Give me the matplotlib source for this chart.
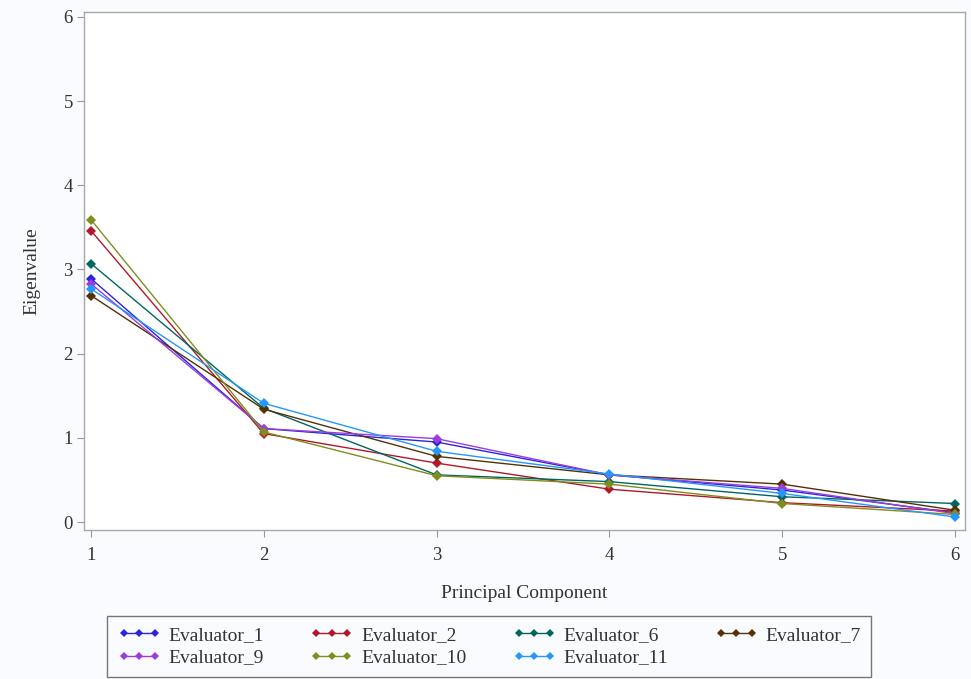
#! /usr/bin/env python3

#Scree plot of eigenvalues per evaluator
import matplotlib
matplotlib.use("Agg")
import matplotlib.pyplot as plt

components = [1, 2, 3, 4, 5, 6]
evaluator_1 = [2.89, 1.11, 0.95, 0.56, 0.38, 0.11]
evaluator_2 = [3.46, 1.05, 0.70, 0.39, 0.23, 0.13]
evaluator_6 = [3.07, 1.35, 0.56, 0.48, 0.30, 0.22]
evaluator_7 = [2.69, 1.34, 0.78, 0.56, 0.45, 0.14]
evaluator_9 = [2.83, 1.11, 0.99, 0.56, 0.40, 0.10]
evaluator_10 = [3.59, 1.07, 0.55, 0.45, 0.22, 0.09]
evaluator_11 = [2.77, 1.41, 0.84, 0.57, 0.34, 0.06]

names = ["Evaluator_1", "Evaluator_2", "Evaluator_6", "Evaluator_7",
         "Evaluator_9", "Evaluator_10", "Evaluator_11"]
series = [evaluator_1, evaluator_2, evaluator_6, evaluator_7,
          evaluator_9, evaluator_10, evaluator_11]
colors = ["#2A25D9", "#B2182B", "#01665E", "#543005",
          "#9D3CDB", "#7F8E1F", "#2597FA"]

plt.rcParams['font.family'] = ['Liberation Serif', 'DejaVu Serif']

fig = plt.figure(figsize=(9.71, 6.79), dpi=100, facecolor="#FAFBFE")
ax = fig.add_axes([0.0865, 0.2194, 0.9073, 0.7629])
ax.set_facecolor("white")

for name, vals, c in zip(names, series, colors):
    ax.plot(components, vals, color=c, lw=1.0, marker="D", markersize=5,
            markeredgewidth=0, label=name)

ax.set_xlim(0.9595, 6.058)
ax.set_ylim(-0.095, 6.057)
ax.set_xticks(components)
ax.set_yticks([0, 1, 2, 3, 4, 5, 6])
ax.tick_params(direction="out", length=5, color="#9A9A9A", labelsize=13.5,
               labelcolor="#333333")
ax.tick_params(axis="x", pad=7)
ax.tick_params(axis="y", pad=3)
for sp in ax.spines.values():
    sp.set_color("#A8A8A8")
    sp.set_linewidth(1.0)

ax.set_xlabel("Principal Component", fontsize=14, color="#333333", labelpad=15)
ax.set_ylabel("Eigenvalue", fontsize=14, color="#333333", labelpad=17)

# legend under the axes, 4 columns
handles, labels = ax.get_legend_handles_labels()
order = [0, 4, 1, 5, 2, 6, 3]
leg = fig.legend([handles[i] for i in order], [labels[i] for i in order],
                 loc="lower left", bbox_to_anchor=(107 / 971, 2 / 679),
                 ncol=4, numpoints=3, handlelength=2.2,
                 markerscale=0.8, fontsize=14, frameon=True, fancybox=False,
                 borderaxespad=0, handletextpad=0.4, columnspacing=2.4,
                 labelspacing=0.25, borderpad=0.55)
leg.get_frame().set_edgecolor("#555555")
leg.get_frame().set_linewidth(1.0)
leg.get_frame().set_facecolor("#FAFBFE")
for t in leg.get_texts():
    t.set_color("#333333")

fig.savefig("out.png", dpi=100, facecolor=fig.get_facecolor())
